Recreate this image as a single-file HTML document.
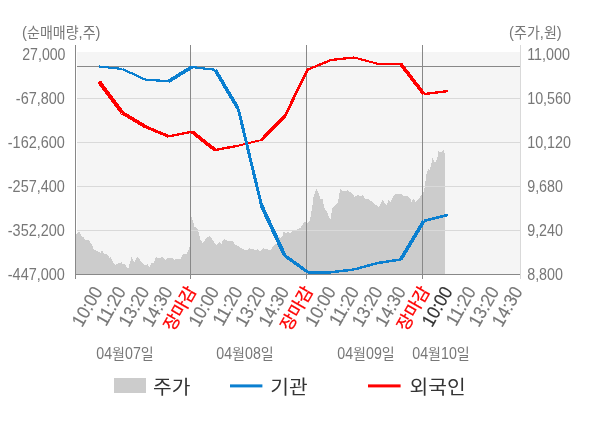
<!DOCTYPE html>
<html lang="ko">
<head>
<meta charset="utf-8">
<title>순매매량 / 주가</title>
<style>
html,body{margin:0;padding:0;background:#ffffff;}
body{width:600px;height:428px;overflow:hidden;font-family:"Liberation Sans","Noto Sans CJK KR",sans-serif;}
svg{display:block;}
text{font-family:"Liberation Sans","Noto Sans CJK KR",sans-serif;}
</style>
</head>
<body>
<svg width="600" height="428" viewBox="0 0 600 428">
<rect x="0" y="0" width="600" height="428" fill="#ffffff"/>
<rect x="77" y="52" width="443" height="222" fill="#f5f5f5"/>
<polygon points="76,274 76.0,234.3 77.5,233.2 79.0,231.3 80.0,232.2 81.5,236.2 83.3,237.0 85.8,240.2 88.9,240.2 92.1,245.3 94.0,250.0 97.1,251.0 100.3,252.8 102.2,250.3 104.1,253.8 107.9,254.7 109.4,257.9 111.0,257.2 112.9,262.3 115.5,264.8 118.0,263.6 121.5,262.3 122.4,264.2 124.9,264.4 128.1,268.9 130.0,262.9 131.5,257.2 134.4,262.3 137.6,256.4 140.7,261.0 143.8,264.8 146.3,265.7 147.6,264.2 149.5,267.0 152.2,262.3 153.3,263.6 155.8,257.2 158.9,257.9 162.3,257.2 165.3,259.8 167.1,258.1 172.2,258.1 174.3,259.8 175.4,258.5 180.4,258.9 182.9,254.1 186.7,254.3 188.5,250.0 189.5,246.7 191.4,216.4 192.6,220.2 194.5,226.5 197.7,229.3 198.9,233.5 200.2,239.1 202.7,242.9 206.5,237.9 209.3,236.0 212.2,239.1 214.3,242.9 216.9,245.1 219.8,241.9 221.4,244.2 222.3,241.0 224.2,239.1 226.7,240.4 230.5,241.4 233.0,241.0 234.9,244.8 237.4,245.5 240.6,247.7 244.4,249.9 247.5,249.9 249.2,248.0 250.7,249.5 252.8,249.1 255.6,250.5 257.7,249.1 259.8,251.2 263.3,248.4 266.8,249.1 271.0,250.5 273.1,246.3 276.6,243.5 278.8,235.8 280.2,237.9 282.3,236.5 283.7,231.6 285.8,233.0 287.9,232.3 290.7,233.0 294.9,229.5 297.3,229.6 300.5,227.7 303.0,223.9 305.3,221.2 306.9,224.2 310.1,219.8 312.6,204.0 313.3,197.1 316.4,188.9 318.3,192.0 320.2,199.0 322.5,199.0 324.6,208.5 327.1,212.2 330.3,219.8 332.2,208.5 334.7,205.3 337.9,203.0 339.4,193.9 340.4,188.9 342.3,190.8 344.8,191.4 347.3,190.2 349.9,192.0 353.0,193.9 354.3,197.1 358.1,195.2 360.6,195.8 363.1,195.2 365.7,199.6 368.8,199.0 373.8,203.4 378.8,207.2 380.7,203.4 382.4,200.0 384.5,202.8 386.4,205.3 388.7,200.0 390.8,201.8 392.7,197.1 395.3,193.9 400.9,194.2 404.1,195.8 407.9,196.5 410.4,199.0 411.7,202.1 413.3,198.4 415.5,202.1 418.0,199.0 420.5,196.5 421.8,194.6 423.0,193.0 424.0,190.5 425.3,182.9 426.5,174.1 428.4,169.0 429.7,170.3 431.6,162.7 432.6,157.7 435.1,163.4 437.2,158.9 438.5,151.4 441.7,152.0 443.6,149.8 444.8,153.9 445.0,274.0" fill="#cccccc" shape-rendering="crispEdges"/>
<rect x="77" y="98" width="443" height="1" fill="#d9d9d9"/>
<rect x="77" y="142" width="443" height="1" fill="#d9d9d9"/>
<rect x="77" y="186" width="443" height="1" fill="#d9d9d9"/>
<rect x="77" y="230" width="443" height="1" fill="#d9d9d9"/>
<rect x="77" y="66" width="443" height="1" fill="#888888"/>
<rect x="190" y="45" width="1" height="234" fill="#888888"/>
<rect x="306" y="45" width="1" height="234" fill="#888888"/>
<rect x="422" y="45" width="1" height="234" fill="#888888"/>
<rect x="75" y="45" width="1" height="234" fill="#888888"/>
<rect x="520" y="45" width="1" height="234" fill="#d9d9d9"/>
<rect x="76" y="274" width="444" height="1" fill="#888888"/>
<g fill="none" shape-rendering="crispEdges">
<line x1="99.1" y1="81.60" x2="122.3" y2="112.90" stroke="#ff0000" stroke-width="4.0" stroke-linecap="butt"/>
<line x1="122.3" y1="112.90" x2="145.5" y2="126.70" stroke="#ff0000" stroke-width="3.6" stroke-linecap="butt"/>
<line x1="145.5" y1="126.70" x2="168.7" y2="136.40" stroke="#ff0000" stroke-width="3.0" stroke-linecap="butt"/>
<line x1="168.7" y1="136.40" x2="191.9" y2="131.70" stroke="#ff0000" stroke-width="2.4" stroke-linecap="butt"/>
<line x1="191.9" y1="131.70" x2="215.1" y2="150.00" stroke="#ff0000" stroke-width="3.6" stroke-linecap="butt"/>
<line x1="215.1" y1="150.00" x2="238.3" y2="145.75" stroke="#ff0000" stroke-width="2.4" stroke-linecap="butt"/>
<line x1="238.3" y1="145.75" x2="261.5" y2="140.00" stroke="#ff0000" stroke-width="1.9" stroke-linecap="butt"/>
<line x1="261.5" y1="140.00" x2="284.7" y2="116.25" stroke="#ff0000" stroke-width="3.4" stroke-linecap="butt"/>
<line x1="284.7" y1="116.25" x2="307.9" y2="69.50" stroke="#ff0000" stroke-width="2.7" stroke-linecap="butt"/>
<line x1="307.9" y1="69.50" x2="331.1" y2="60.00" stroke="#ff0000" stroke-width="2.3" stroke-linecap="butt"/>
<line x1="331.1" y1="60.00" x2="354.3" y2="57.50" stroke="#ff0000" stroke-width="2.3" stroke-linecap="butt"/>
<line x1="354.3" y1="57.50" x2="377.5" y2="63.75" stroke="#ff0000" stroke-width="2.1" stroke-linecap="butt"/>
<line x1="377.5" y1="63.75" x2="400.7" y2="64.00" stroke="#ff0000" stroke-width="2.3" stroke-linecap="butt"/>
<line x1="400.7" y1="64.00" x2="423.9" y2="94.10" stroke="#ff0000" stroke-width="3.6" stroke-linecap="butt"/>
<line x1="423.9" y1="94.10" x2="448.0" y2="91.10" stroke="#ff0000" stroke-width="2.3" stroke-linecap="butt"/>
</g>
<g fill="none" shape-rendering="crispEdges">
<line x1="99.1" y1="66.50" x2="122.3" y2="69.00" stroke="#0a7fd0" stroke-width="2.2" stroke-linecap="butt"/>
<line x1="122.3" y1="69.00" x2="145.5" y2="79.70" stroke="#0a7fd0" stroke-width="2.2" stroke-linecap="butt"/>
<line x1="145.5" y1="79.70" x2="168.7" y2="81.20" stroke="#0a7fd0" stroke-width="2.2" stroke-linecap="butt"/>
<line x1="168.7" y1="81.20" x2="191.9" y2="67.00" stroke="#0a7fd0" stroke-width="3.6" stroke-linecap="butt"/>
<line x1="191.9" y1="67.00" x2="215.1" y2="69.80" stroke="#0a7fd0" stroke-width="2.2" stroke-linecap="butt"/>
<line x1="215.1" y1="69.80" x2="238.3" y2="109.00" stroke="#0a7fd0" stroke-width="3.6" stroke-linecap="butt"/>
<line x1="238.3" y1="109.00" x2="261.5" y2="205.50" stroke="#0a7fd0" stroke-width="3.0" stroke-linecap="butt"/>
<line x1="261.5" y1="205.50" x2="284.7" y2="255.50" stroke="#0a7fd0" stroke-width="3.8" stroke-linecap="butt"/>
<line x1="284.7" y1="255.50" x2="307.9" y2="272.20" stroke="#0a7fd0" stroke-width="3.2" stroke-linecap="butt"/>
<line x1="307.9" y1="272.20" x2="331.1" y2="272.20" stroke="#0a7fd0" stroke-width="3" stroke-linecap="butt"/>
<line x1="331.1" y1="272.20" x2="354.3" y2="269.50" stroke="#0a7fd0" stroke-width="2.5" stroke-linecap="butt"/>
<line x1="354.3" y1="269.50" x2="377.5" y2="263.00" stroke="#0a7fd0" stroke-width="2.5" stroke-linecap="butt"/>
<line x1="377.5" y1="263.00" x2="400.7" y2="259.50" stroke="#0a7fd0" stroke-width="2.5" stroke-linecap="butt"/>
<line x1="400.7" y1="259.50" x2="423.9" y2="220.90" stroke="#0a7fd0" stroke-width="3.7" stroke-linecap="butt"/>
<line x1="423.9" y1="220.90" x2="448.0" y2="214.90" stroke="#0a7fd0" stroke-width="2.5" stroke-linecap="butt"/>
</g>
<g transform="translate(22.1,38)" fill="#777777"><text transform="translate(0.00,0) scale(0.9,1)" font-size="16.3">(</text><text transform="translate(4.88,0) scale(0.975,1)" font-size="14.4">순매매량</text><text transform="translate(56.52,0) scale(0.9,1)" font-size="16.3">,</text><text transform="translate(60.60,0) scale(0.975,1)" font-size="14.4">주</text><text transform="translate(73.52,0) scale(0.9,1)" font-size="16.3">)</text></g>
<g transform="translate(509.1,38)" fill="#777777"><text transform="translate(0.00,0) scale(0.9,1)" font-size="16.3">(</text><text transform="translate(4.88,0) scale(0.975,1)" font-size="14.4">주가</text><text transform="translate(30.70,0) scale(0.9,1)" font-size="16.3">,</text><text transform="translate(34.78,0) scale(0.975,1)" font-size="14.4">원</text><text transform="translate(47.70,0) scale(0.9,1)" font-size="16.3">)</text></g>
<g transform="translate(65.5,59.5)" fill="#777777"><text transform="translate(-43.25,0) scale(0.852,1)" font-size="16.6">27,000</text></g>
<g transform="translate(527.2,59.5)" fill="#777777"><text transform="translate(0.00,0) scale(0.862,1)" font-size="16.6">11,000</text></g>
<g transform="translate(64.9,103.5)" fill="#777777"><text transform="translate(-49.08,0) scale(0.872,1)" font-size="16.6">-67,800</text></g>
<g transform="translate(527.2,103.5)" fill="#777777"><text transform="translate(0.00,0) scale(0.862,1)" font-size="16.6">10,560</text></g>
<g transform="translate(64.9,147.5)" fill="#777777"><text transform="translate(-57.13,0) scale(0.872,1)" font-size="16.6">-162,600</text></g>
<g transform="translate(527.2,147.5)" fill="#777777"><text transform="translate(0.00,0) scale(0.862,1)" font-size="16.6">10,120</text></g>
<g transform="translate(64.9,191.5)" fill="#777777"><text transform="translate(-57.13,0) scale(0.872,1)" font-size="16.6">-257,400</text></g>
<g transform="translate(527.2,191.5)" fill="#777777"><text transform="translate(0.00,0) scale(0.862,1)" font-size="16.6">9,680</text></g>
<g transform="translate(64.9,235.5)" fill="#777777"><text transform="translate(-57.13,0) scale(0.872,1)" font-size="16.6">-352,200</text></g>
<g transform="translate(527.2,235.5)" fill="#777777"><text transform="translate(0.00,0) scale(0.862,1)" font-size="16.6">9,240</text></g>
<g transform="translate(64.9,279.9)" fill="#777777"><text transform="translate(-57.13,0) scale(0.872,1)" font-size="16.6">-447,000</text></g>
<g transform="translate(527.2,279.5)" fill="#777777"><text transform="translate(0.00,0) scale(0.862,1)" font-size="16.6">8,800</text></g>
<g transform="translate(103.2,291.3) rotate(-60)" fill="#777777"><text transform="translate(-42.34,0) scale(0.91,1)" font-size="18.6" stroke="#777777" stroke-width="0.15">10:00</text></g>
<g transform="translate(126.5,291.3) rotate(-60)" fill="#777777"><text transform="translate(-41.09,0) scale(0.91,1)" font-size="18.6" stroke="#777777" stroke-width="0.15">11:20</text></g>
<g transform="translate(149.9,291.3) rotate(-60)" fill="#777777"><text transform="translate(-42.34,0) scale(0.91,1)" font-size="18.6" stroke="#777777" stroke-width="0.15">13:20</text></g>
<g transform="translate(173.2,291.3) rotate(-60)" fill="#777777"><text transform="translate(-42.34,0) scale(0.91,1)" font-size="18.6" stroke="#777777" stroke-width="0.15">14:30</text></g>
<g transform="translate(197.0,290.90000000000003) rotate(-60)" fill="#ff0000"><text transform="translate(-47.45,0) scale(1.0,1)" font-size="17.2" stroke="#ff0000" stroke-width="0.3">장마감</text></g>
<g transform="translate(219.8,291.3) rotate(-60)" fill="#777777"><text transform="translate(-42.34,0) scale(0.91,1)" font-size="18.6" stroke="#777777" stroke-width="0.15">10:00</text></g>
<g transform="translate(243.2,291.3) rotate(-60)" fill="#777777"><text transform="translate(-41.09,0) scale(0.91,1)" font-size="18.6" stroke="#777777" stroke-width="0.15">11:20</text></g>
<g transform="translate(266.5,291.3) rotate(-60)" fill="#777777"><text transform="translate(-42.34,0) scale(0.91,1)" font-size="18.6" stroke="#777777" stroke-width="0.15">13:20</text></g>
<g transform="translate(289.8,291.3) rotate(-60)" fill="#777777"><text transform="translate(-42.34,0) scale(0.91,1)" font-size="18.6" stroke="#777777" stroke-width="0.15">14:30</text></g>
<g transform="translate(313.7,290.90000000000003) rotate(-60)" fill="#ff0000"><text transform="translate(-47.45,0) scale(1.0,1)" font-size="17.2" stroke="#ff0000" stroke-width="0.3">장마감</text></g>
<g transform="translate(336.5,291.3) rotate(-60)" fill="#777777"><text transform="translate(-42.34,0) scale(0.91,1)" font-size="18.6" stroke="#777777" stroke-width="0.15">10:00</text></g>
<g transform="translate(359.8,291.3) rotate(-60)" fill="#777777"><text transform="translate(-41.09,0) scale(0.91,1)" font-size="18.6" stroke="#777777" stroke-width="0.15">11:20</text></g>
<g transform="translate(383.2,291.3) rotate(-60)" fill="#777777"><text transform="translate(-42.34,0) scale(0.91,1)" font-size="18.6" stroke="#777777" stroke-width="0.15">13:20</text></g>
<g transform="translate(406.5,291.3) rotate(-60)" fill="#777777"><text transform="translate(-42.34,0) scale(0.91,1)" font-size="18.6" stroke="#777777" stroke-width="0.15">14:30</text></g>
<g transform="translate(430.3,290.90000000000003) rotate(-60)" fill="#ff0000"><text transform="translate(-47.45,0) scale(1.0,1)" font-size="17.2" stroke="#ff0000" stroke-width="0.3">장마감</text></g>
<g transform="translate(453.1,291.3) rotate(-60)" fill="#333333"><text transform="translate(-42.34,0) scale(0.91,1)" font-size="18.6" stroke="#333333" stroke-width="0.2">10:00</text></g>
<g transform="translate(476.5,291.3) rotate(-60)" fill="#777777"><text transform="translate(-41.09,0) scale(0.91,1)" font-size="18.6" stroke="#777777" stroke-width="0.15">11:20</text></g>
<g transform="translate(499.8,291.3) rotate(-60)" fill="#777777"><text transform="translate(-42.34,0) scale(0.91,1)" font-size="18.6" stroke="#777777" stroke-width="0.15">13:20</text></g>
<g transform="translate(523.1,291.3) rotate(-60)" fill="#777777"><text transform="translate(-42.34,0) scale(0.91,1)" font-size="18.6" stroke="#777777" stroke-width="0.15">14:30</text></g>
<g transform="translate(125,359.2)" fill="#777777"><text transform="translate(-28.76,0) scale(0.89,1)" font-size="16.0">04</text><text transform="translate(-12.92,-0.7) scale(0.975,1)" font-size="14.4">월</text><text transform="translate(0.00,0) scale(0.89,1)" font-size="16.0">07</text><text transform="translate(15.84,-0.7) scale(0.975,1)" font-size="14.4">일</text></g>
<g transform="translate(245,359.2)" fill="#777777"><text transform="translate(-28.76,0) scale(0.89,1)" font-size="16.0">04</text><text transform="translate(-12.92,-0.7) scale(0.975,1)" font-size="14.4">월</text><text transform="translate(0.00,0) scale(0.89,1)" font-size="16.0">08</text><text transform="translate(15.84,-0.7) scale(0.975,1)" font-size="14.4">일</text></g>
<g transform="translate(366,359.2)" fill="#777777"><text transform="translate(-28.76,0) scale(0.89,1)" font-size="16.0">04</text><text transform="translate(-12.92,-0.7) scale(0.975,1)" font-size="14.4">월</text><text transform="translate(0.00,0) scale(0.89,1)" font-size="16.0">09</text><text transform="translate(15.84,-0.7) scale(0.975,1)" font-size="14.4">일</text></g>
<g transform="translate(441,359.2)" fill="#777777"><text transform="translate(-28.76,0) scale(0.89,1)" font-size="16.0">04</text><text transform="translate(-12.92,-0.7) scale(0.975,1)" font-size="14.4">월</text><text transform="translate(0.00,0) scale(0.89,1)" font-size="16.0">10</text><text transform="translate(15.84,-0.7) scale(0.975,1)" font-size="14.4">일</text></g>
<rect x="114" y="378" width="32" height="15" fill="#cccccc"/>
<g transform="translate(153,393.7)" fill="#333333"><text transform="translate(0.00,0) scale(1.07,1)" font-size="19">주가</text></g>
<rect x="230" y="384.4" width="32.4" height="3" fill="#0a7fd0"/>
<g transform="translate(270.3,393.7)" fill="#333333"><text transform="translate(0.00,0) scale(1.07,1)" font-size="19">기관</text></g>
<rect x="368" y="384.4" width="32.6" height="3" fill="#ff0000"/>
<g transform="translate(409.6,393.7)" fill="#333333"><text transform="translate(0.00,0) scale(1.07,1)" font-size="19">외국인</text></g>
</svg>
</body>
</html>
